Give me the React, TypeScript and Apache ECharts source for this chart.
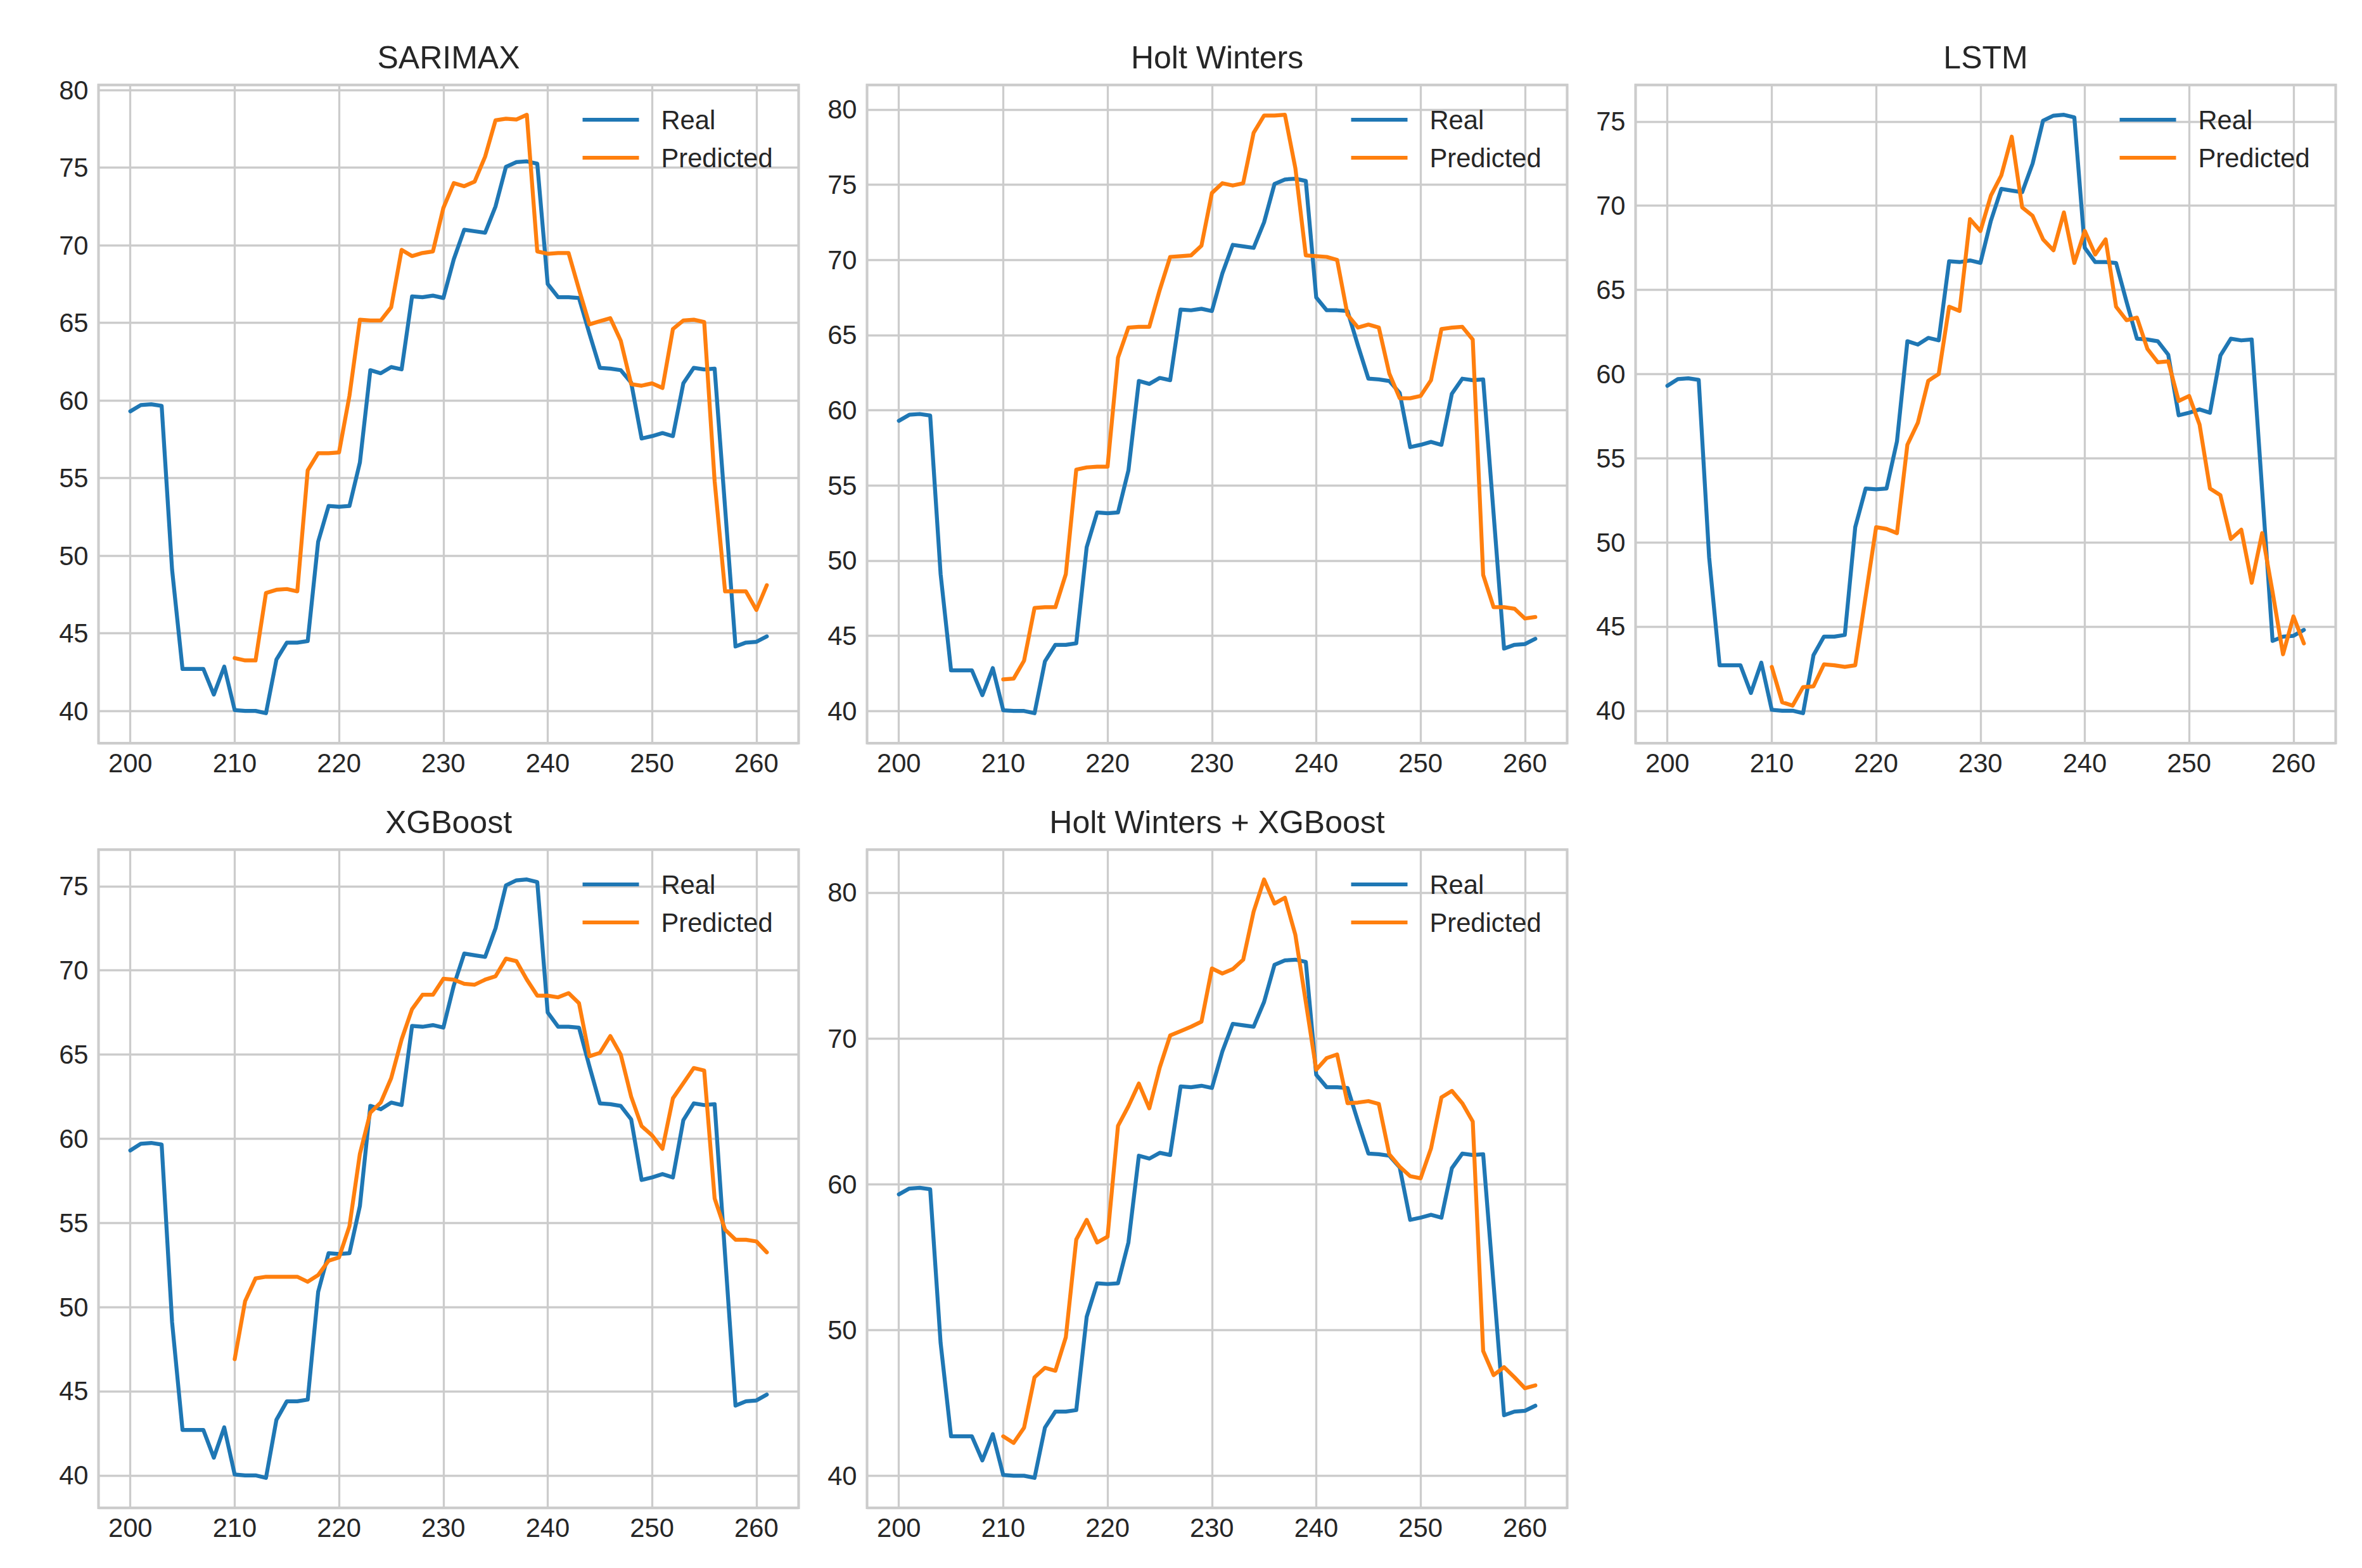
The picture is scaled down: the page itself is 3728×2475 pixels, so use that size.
import React, { useEffect, useRef } from 'react';
import * as echarts from 'echarts';

// ---- data ----
const panelTitles = ['SARIMAX', 'Holt Winters', 'LSTM', 'XGBoost', 'Holt Winters + XGBoost'];
const realStart = 200;
const predStart = 210;
const xTicks = [200, 210, 220, 230, 240, 250, 260];
const yTickSteps = [5, 5, 5, 5, 10];

const realValues = [
  59.3, 59.7, 59.75, 59.65, 49.1, 42.7, 42.7, 42.7, 41.05, 42.85,
  40.05, 40.0, 40.0, 39.85, 43.3, 44.4, 44.4, 44.5, 50.9, 53.2,
  53.15, 53.2, 56.0, 61.95, 61.75, 62.15, 62.0, 66.7, 66.65, 66.75,
  66.6, 69.1, 71.0, 70.9, 70.8, 72.5, 75.05, 75.35, 75.4, 75.25,
  67.5, 66.65, 66.65, 66.6, 64.3, 62.1, 62.05, 61.95, 61.15, 57.55,
  57.7, 57.9, 57.7, 61.1, 62.1, 62.0, 62.05, 53.1, 44.15, 44.4,
  44.45, 44.8,
];

const sarimaxPred = [
  43.4, 43.25, 43.25, 47.6, 47.8, 47.85, 47.7, 55.5, 56.6, 56.6,
  56.65, 60.3, 65.2, 65.15, 65.15, 66.0, 69.7, 69.3, 69.5, 69.6,
  72.4, 74.0, 73.8, 74.1, 75.7, 78.05, 78.15, 78.1, 78.4, 69.6,
  69.45, 69.5, 69.5, 67.15, 64.9, 65.1, 65.3, 63.85, 61.05, 60.95,
  61.1, 60.8, 64.6, 65.15, 65.2, 65.05, 54.8, 47.7, 47.7, 47.7,
  46.5, 48.1,
];

const holtWintersPred = [
  42.1, 42.15, 43.35, 46.85, 46.9, 46.9, 49.1, 56.05, 56.2, 56.25,
  56.25, 63.5, 65.5, 65.55, 65.55, 68.0, 70.2, 70.25, 70.3, 70.95,
  74.45, 75.1, 74.95, 75.1, 78.45, 79.6, 79.6, 79.65, 76.1, 70.3,
  70.25, 70.2, 70.0, 66.35, 65.5, 65.7, 65.5, 62.45, 60.8, 60.8,
  60.95, 62.0, 65.4, 65.5, 65.55, 64.7, 49.05, 46.9, 46.9, 46.8,
  46.15, 46.25,
];

const lstmPred = [
  42.6, 40.5, 40.3, 41.4, 41.45, 42.75, 42.7, 42.6, 42.7, 46.8,
  50.9, 50.8, 50.55, 55.8, 57.1, 59.6, 60.0, 64.0, 63.75, 69.2,
  68.5, 70.6, 71.8, 74.1, 69.9, 69.4, 68.0, 67.35, 69.6, 66.6,
  68.5, 67.1, 68.0, 64.0, 63.2, 63.35, 61.5, 60.7, 60.75, 58.4,
  58.7, 57.0, 53.2, 52.8, 50.2, 50.75, 47.6, 50.55, 47.05, 43.35,
  45.6, 44.0,
];

const xgboostPred = [
  46.9, 50.35, 51.7, 51.8, 51.8, 51.8, 51.8, 51.5, 51.9, 52.75,
  52.95, 54.8, 59.1, 61.55, 62.15, 63.6, 65.9, 67.7, 68.55, 68.55,
  69.5, 69.45, 69.2, 69.15, 69.45, 69.65, 70.7, 70.55, 69.45, 68.5,
  68.5, 68.4, 68.65, 68.05, 64.9, 65.1, 66.1, 65.0, 62.5, 60.75,
  60.2, 59.4, 62.4, 63.3, 64.2, 64.05, 56.45, 54.6, 54.0, 54.0,
  53.9, 53.25,
];

const hwXgbPred = [
  42.7, 42.25, 43.3, 46.75, 47.4, 47.2, 49.5, 56.2, 57.55, 56.0,
  56.4, 64.0, 65.35, 66.9, 65.2, 68.0, 70.2, 70.5, 70.8, 71.15,
  74.8, 74.45, 74.75, 75.4, 78.7, 80.9, 79.25, 79.65, 77.1, 72.5,
  67.85, 68.65, 68.9, 65.55, 65.6, 65.7, 65.5, 62.05, 61.2, 60.55,
  60.4, 62.45, 65.95, 66.4, 65.55, 64.3, 48.55, 46.9, 47.45, 46.75,
  46.0, 46.2,
];

const predictions = [sarimaxPred, holtWintersPred, lstmPred, xgboostPred, hwXgbPred];

// ---- layout / style ----
const W = 3728;
const H = 2475;
const FONT = '"Liberation Sans", Arial, sans-serif';
const TEXT = '#262626';
const GRIDC = '#cccccc';
const BLUE = '#1f77b4';
const ORANGE = '#ff7f0e';
const colLefts = [155.5, 1368.5, 2581.5];
const rowTops = [134, 1341];
const plotW = 1105;
const plotH = 1039;

function toPairs(start: number, vals: number[]) {
  return vals.map((v, i) => [start + i, v]);
}

function isMultiple(v: number, step: number) {
  const r = v / step;
  return Math.abs(r - Math.round(r)) < 1e-6;
}

function buildOption() {
  const grids: any[] = [];
  const xAxes: any[] = [];
  const yAxes: any[] = [];
  const series: any[] = [];
  const legends: any[] = [];
  const graphics: any[] = [];

  const xMinData = realStart;
  const xMaxData = realStart + realValues.length - 1;
  const xPad = (xMaxData - xMinData) * 0.05;

  panelTitles.forEach((title, i) => {
    const left = colLefts[i % 3];
    const top = rowTops[Math.floor(i / 3)];
    const pred = predictions[i];
    const all = realValues.concat(pred);
    const dMin = Math.min(...all);
    const dMax = Math.max(...all);
    const yPad = (dMax - dMin) * 0.05;
    const step = yTickSteps[i];

    grids.push({
      left, top, width: plotW, height: plotH,
      show: true, borderColor: GRIDC, borderWidth: 4, backgroundColor: '#ffffff',
      containLabel: false,
    });

    xAxes.push({
      type: 'value', gridIndex: i,
      min: xMinData - xPad, max: xMaxData + xPad,
      minInterval: 10, maxInterval: 10, splitNumber: xTicks.length,
      axisLine: { show: false }, axisTick: { show: false },
      splitLine: { show: true, lineStyle: { color: GRIDC, width: 3.3 } },
      axisLabel: {
        show: true, margin: 10, fontFamily: FONT, fontSize: 41.7, color: TEXT,
        showMinLabel: true, showMaxLabel: true,
        formatter: (v: number) => (xTicks.indexOf(Math.round(v)) >= 0 && isMultiple(v, 10) ? String(Math.round(v)) : ''),
      },
    });

    yAxes.push({
      type: 'value', gridIndex: i,
      min: dMin - yPad, max: dMax + yPad,
      minInterval: step, maxInterval: step, splitNumber: Math.round((dMax - dMin) / step),
      axisLine: { show: false }, axisTick: { show: false },
      splitLine: { show: true, lineStyle: { color: GRIDC, width: 3.3 } },
      axisLabel: {
        show: true, margin: 16, fontFamily: FONT, fontSize: 41.7, color: TEXT,
        showMinLabel: true, showMaxLabel: true,
        formatter: (v: number) => (isMultiple(v, step) ? String(Math.round(v)) : ''),
      },
    });

    series.push({
      type: 'line', name: 'Real', xAxisIndex: i, yAxisIndex: i,
      data: toPairs(realStart, realValues),
      showSymbol: false, symbol: 'none', silent: true, z: 2,
      color: BLUE,
      itemStyle: { color: BLUE },
      lineStyle: { color: BLUE, width: 6.25, cap: 'round', join: 'round' },
    });
    series.push({
      type: 'line', name: 'Predicted', xAxisIndex: i, yAxisIndex: i,
      data: toPairs(predStart, pred),
      showSymbol: false, symbol: 'none', silent: true, z: 3,
      color: ORANGE,
      itemStyle: { color: ORANGE },
      lineStyle: { color: ORANGE, width: 6.25, cap: 'round', join: 'round' },
    });

    legends.push({
      left: left + plotW - 341, top: top + 31,
      orient: 'vertical', padding: 0, itemGap: 12,
      itemWidth: 89, itemHeight: 6, icon: 'rect',
      selectedMode: false,
      data: ['Real', 'Predicted'],
      textStyle: { fontFamily: FONT, fontSize: 41.7, color: TEXT, lineHeight: 48, padding: [0, 0, 0, 30] },
    });

    graphics.push({
      type: 'text',
      x: left + plotW / 2,
      y: top - 43.5,
      style: {
        text: title, x: 0, y: 0, align: 'center', verticalAlign: 'middle',
        fontFamily: FONT, fontSize: 50, fill: TEXT,
      },
    });
  });

  return {
    animation: false,
    backgroundColor: '#ffffff',
    grid: grids,
    xAxis: xAxes,
    yAxis: yAxes,
    series,
    legend: legends,
    graphic: graphics,
  };
}

export default function App() {
  const ref = useRef<HTMLDivElement>(null);
  useEffect(() => {
    if (!ref.current) return;
    const chart = echarts.init(ref.current, undefined, { renderer: 'svg' });
    chart.setOption(buildOption() as any);
    return () => chart.dispose();
  }, []);
  return (
    <div
      ref={ref}
      style={{ position: 'absolute', left: 0, top: 0, width: W, height: H, background: '#ffffff' }}
    />
  );
}
